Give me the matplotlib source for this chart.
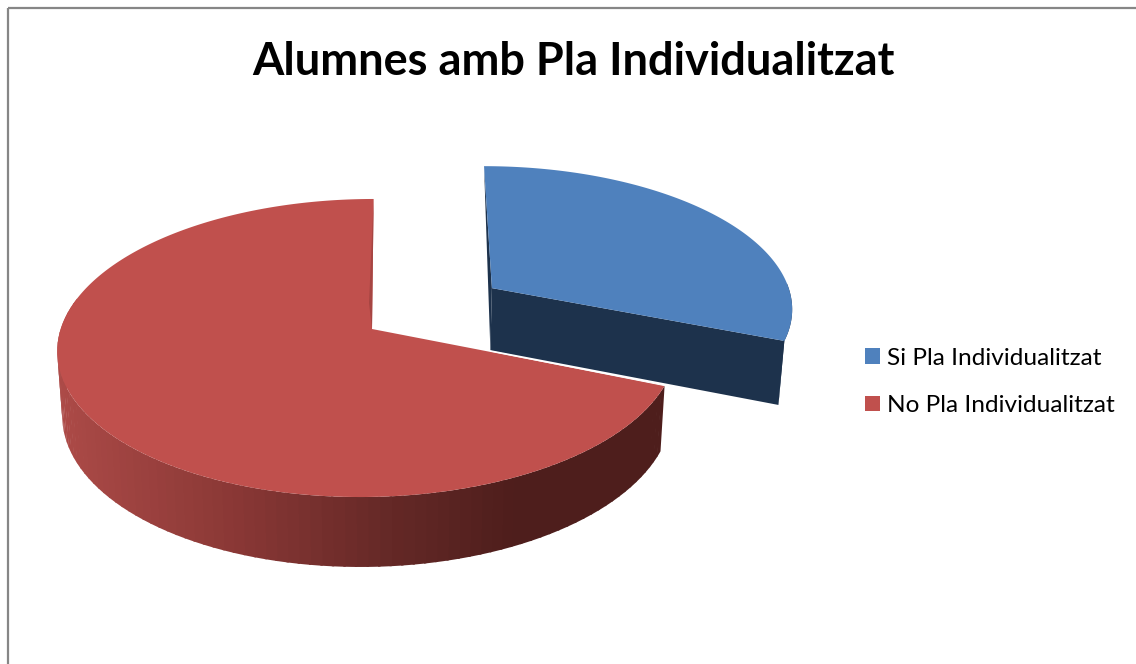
#!/usr/bin/env python3
"""Alumnes amb Pla Individualitzat - 3D exploded pie drawn by hand."""

import numpy as np
import matplotlib
matplotlib.use('Agg')
import matplotlib.pyplot as plt
from matplotlib.colors import LinearSegmentedColormap
from matplotlib.patches import Patch, Polygon, Rectangle

# ==================== Data ====================
TITLE = 'Alumnes amb Pla Individualitzat'
CATEGORIES = ['Si Pla Individualitzat', 'No Pla Individualitzat']
VALUES = [31, 69]

# ==================== Style ====================
BLUE_TOP = '#4F81BD'
BLUE_SIDE = '#1D324C'
RED_TOP = '#C0504D'
RED_INNER = '#A64542'
FRAME = '#868686'
FONT = 'Lato'

# Pixel geometry of the perspective view
CX, CY = 372, 329
RX, RY = 307, 146.6
PERSP = 0.1275
SHEAR = 0.02
EXPLODE = 0.482
BLUE_LIFT = 2.5
SIDE_GRAD = LinearSegmentedColormap.from_list(
    'side', [(0.0, '#AC4A47'), (0.3, '#883735'), (0.55, '#642826'),
             (0.75, '#4E1E1C'), (1.0, '#4E1E1C')])


def project(x, y):
    """Unit-circle plane -> screen pixels (y grows downwards)."""
    w = 1 + PERSP * y
    return CX + RX * (x + SHEAR * y) / w, CY - RY * y / w


def drop(px, py):
    """Top face pixel -> pixel of the same point on the bottom face."""
    return px - 0.015 * (px - 390), py + 62 + 0.038 * (py - 288)


def arc(t0, t1, x0=0.0, y0=0.0, n=300):
    """Rim points between clockwise-from-top angles t0..t1 (degrees)."""
    t = np.radians(np.linspace(t0, t1, n))
    return project(x0 + np.sin(t), y0 + np.cos(t))


fig = plt.figure(figsize=(11.36, 6.64), dpi=100)
ax = fig.add_axes([0, 0, 1, 1])
ax.set_xlim(0, 1136)
ax.set_ylim(664, 0)
ax.axis('off')

ax.add_patch(Rectangle((8, 8), 1200, 700, fill=False, ec=FRAME, lw=1.6))

split = VALUES[0] / sum(VALUES) * 360

# --- No slice: curved wall, stepped gradient left to right ---
steps = np.linspace(split, 282, 90)
for t0, t1 in zip(steps[:-1], steps[1:]):
    tx, ty = arc(t0, t1 + 0.4, -0.014, n=12)
    bx, by = drop(tx, ty)
    mid = (tx.mean() - 57) / (665 - 57)
    ax.add_patch(Polygon(np.column_stack([np.r_[tx, bx[::-1]],
                                          np.r_[ty, by[::-1]]]),
                         fc=SIDE_GRAD(mid), ec='none'))

# --- Si slice: pulled out along its bisector ---
mid_a = np.radians(split / 2)
ox, oy = EXPLODE * np.sin(mid_a), EXPLODE * np.cos(mid_a)
ax_px, ay_px = project(ox, oy)
ay_px -= BLUE_LIFT
bx_px, by_px = drop(ax_px, ay_px)
sx, sy = arc(0, split, ox, oy)
sy = sy - BLUE_LIFT
ex, ey = sx[-1], sy[-1]
ebx, eby = drop(ex, ey)

# back wall sliver, outer wall, cut face
ax.add_patch(Polygon([(sx[0], sy[0]), (ax_px, ay_px), (bx_px, by_px)],
                     fc=BLUE_SIDE, ec='none'))
wx, wy = arc(88, split, ox, oy, n=40)
ax.add_patch(Polygon(np.column_stack([np.r_[wx, ebx],
                                      np.r_[wy - BLUE_LIFT, eby]]),
                     fc=BLUE_SIDE, ec='none'))
ax.add_patch(Polygon([(ax_px, ay_px), (ex, ey), (ebx, eby), (bx_px, by_px)],
                     fc=BLUE_SIDE, ec='none'))
ax.add_patch(Polygon(np.column_stack([np.r_[ax_px, sx], np.r_[ay_px, sy]]),
                     fc=BLUE_TOP, ec='none'))

# --- No slice: top face, on top of the Si wall ---
rx, ry = arc(split, 360, -0.014)
ax.add_patch(Polygon(np.column_stack([np.r_[CX, rx], np.r_[CY, ry]]),
                     fc=RED_TOP, ec='none'))
ax.add_patch(Polygon([(rx[-1], ry[-1]), (CX, CY), (CX - 3, CY - 26)],
                     fc=RED_INNER, ec='none'))
ax.plot([bx_px, rx[0]], [by_px + 1, ry[0]], color='white', lw=0.7)

# --- Title and legend ---
ax.text(574, 62, TITLE, ha='center', va='center', fontsize=32.5,
        fontweight='bold', family=FONT, color='black')
handles = [Patch(fc=BLUE_TOP, ec='none', label=CATEGORIES[0]),
           Patch(fc=RED_TOP, ec='none', label=CATEGORIES[1])]
ax.legend(handles=handles, loc='upper left',
          bbox_to_anchor=(865 / 1136, 1 - 348 / 664),
          frameon=False, borderaxespad=0, borderpad=0,
          prop={'family': FONT, 'size': 17.6},
          handlelength=0.62, handleheight=0.62, handletextpad=0.27,
          labelspacing=1.07, labelcolor='black')

fig.savefig('out.png', dpi=100)
